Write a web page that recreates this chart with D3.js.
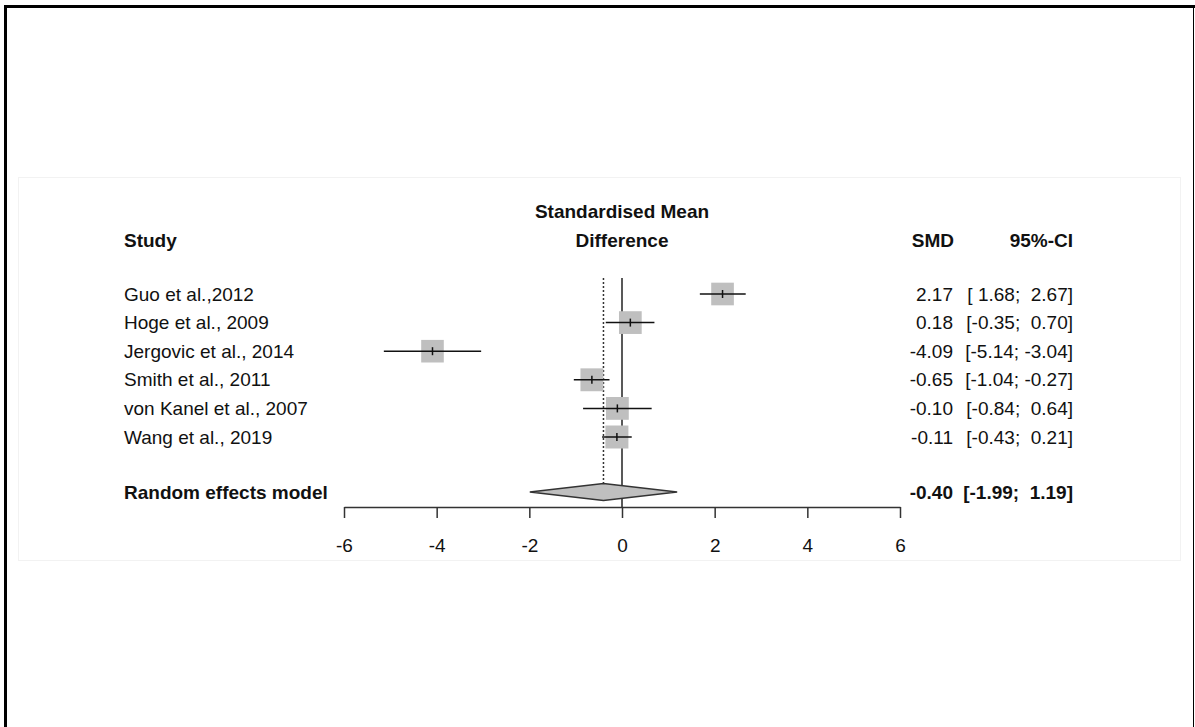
<!DOCTYPE html>
<meta charset="utf-8">
<style>
	body { margin: 0; background: #fff; }
	text {
		font-family: "Liberation Sans", Arial, sans-serif;
		font-size: 19px;
		fill: #111;
		white-space: pre;
	}
	.bold { font-weight: bold; }
	.axis path, .axis line { stroke: #333; stroke-width: 1.5; }
	.axis text { font-size: 19px; fill: #111; }
</style>

<div class="forest"></div>

<script src="https://d3js.org/d3.v7.min.js"></script>

<script>
	var studies = ["Guo et al.,2012", "Hoge et al., 2009", "Jergovic et al., 2014",
			"Smith et al., 2011", "von Kanel et al., 2007", "Wang et al., 2019"];
	var smd = [2.17, 0.18, -4.09, -0.65, -0.10, -0.11];
	var lower = [1.68, -0.35, -5.14, -1.04, -0.84, -0.43];
	var upper = [2.67, 0.70, -3.04, -0.27, 0.64, 0.21];
	var weights = [16.5, 16.6, 16.4, 16.8, 16.7, 17.0];
	var pooled = {label: "Random effects model", est: -0.40, lo: -1.99, hi: 1.19};
	var ticks = [-6, -4, -2, 0, 2, 4, 6];

	var W = 1195, H = 727;

	var svg = d3.select('.forest')
			.append("svg")
			.attr("width", W)
			.attr("height", H);

	// outer frame
	svg.append("line").attr("x1", 4).attr("x2", 1195).attr("y1", 6.5).attr("y2", 6.5)
			.attr("stroke", "#000").attr("stroke-width", 3);
	svg.append("line").attr("x1", 5.5).attr("x2", 5.5).attr("y1", 5).attr("y2", H)
			.attr("stroke", "#000").attr("stroke-width", 3);
	svg.append("line").attr("x1", 1193.5).attr("x2", 1193.5).attr("y1", 5).attr("y2", H)
			.attr("stroke", "#000").attr("stroke-width", 1);

	// faint plot panel
	svg.append("rect").attr("x", 18.5).attr("y", 177.5).attr("width", 1162).attr("height", 383)
			.attr("fill", "#fff").attr("stroke", "#f2f2f2");

	var x = d3.scaleLinear().domain([-6, 6]).range([344, 900]);
	var y = d3.scalePoint().domain(studies).range([294, 437]);
	var yPooled = 492, axisY = 507;
	var size = d3.scaleSqrt().domain([0, 17]).range([0, 23]);

	var data = studies.map(function(s, i) {
		return {study: s, est: smd[i], lo: lower[i], hi: upper[i], w: weights[i]};
	});

	var fmt = d3.format(".2f");
	function f(v) { return fmt(v).replace("−", "-"); }
	function pad(v) { return (v >= 0 ? " " : "") + f(v); }

	// headers
	svg.append("text").attr("class", "bold").attr("x", 124).attr("y", 240)
			.attr("dominant-baseline", "central").text("Study");
	svg.append("text").attr("class", "bold").attr("x", x(0)).attr("y", 211)
			.attr("text-anchor", "middle").attr("dominant-baseline", "central").text("Standardised Mean");
	svg.append("text").attr("class", "bold").attr("x", x(0)).attr("y", 240)
			.attr("text-anchor", "middle").attr("dominant-baseline", "central").text("Difference");
	svg.append("text").attr("class", "bold").attr("x", 954).attr("y", 240)
			.attr("text-anchor", "end").attr("dominant-baseline", "central").text("SMD");
	svg.append("text").attr("class", "bold").attr("x", 1073).attr("y", 240)
			.attr("text-anchor", "end").attr("dominant-baseline", "central").text("95%-CI");

	// reference lines
	svg.append("line").attr("x1", x(0)).attr("x2", x(0)).attr("y1", 278).attr("y2", axisY)
			.attr("stroke", "#222").attr("stroke-width", 1.5);
	svg.append("line").attr("x1", x(pooled.est)).attr("x2", x(pooled.est)).attr("y1", 278).attr("y2", yPooled - 8)
			.attr("stroke", "#333").attr("stroke-width", 1.5).attr("stroke-dasharray", "2,2");

	var rows = svg.selectAll("g.row").data(data).enter().append("g").attr("class", "row");

	rows.append("text").attr("x", 124).attr("y", function(d) { return y(d.study); })
			.attr("dominant-baseline", "central").text(function(d) { return d.study; });

	rows.append("rect")
			.attr("x", function(d) { return x(d.est) - size(d.w) / 2; })
			.attr("y", function(d) { return y(d.study) - size(d.w) / 2; })
			.attr("width", function(d) { return size(d.w); })
			.attr("height", function(d) { return size(d.w); })
			.attr("fill", "#bfbfbf");

	rows.append("line")
			.attr("x1", function(d) { return x(d.lo); })
			.attr("x2", function(d) { return x(d.hi); })
			.attr("y1", function(d) { return y(d.study); })
			.attr("y2", function(d) { return y(d.study); })
			.attr("stroke", "#111").attr("stroke-width", 1.5);

	rows.append("line")
			.attr("x1", function(d) { return x(d.est); })
			.attr("x2", function(d) { return x(d.est); })
			.attr("y1", function(d) { return y(d.study) - 4; })
			.attr("y2", function(d) { return y(d.study) + 4; })
			.attr("stroke", "#111").attr("stroke-width", 1.5);

	rows.append("text").attr("x", 953).attr("y", function(d) { return y(d.study); })
			.attr("text-anchor", "end").attr("dominant-baseline", "central")
			.text(function(d) { return f(d.est); });

	rows.append("text").attr("x", 1073).attr("y", function(d) { return y(d.study); })
			.attr("text-anchor", "end").attr("dominant-baseline", "central")
			.text(function(d) { return "[" + pad(d.lo) + "; " + pad(d.hi) + "]"; });

	// pooled estimate
	svg.append("text").attr("class", "bold").attr("x", 124).attr("y", yPooled)
			.attr("dominant-baseline", "central").text(pooled.label);
	svg.append("polygon")
			.attr("points", [
				[x(pooled.lo), yPooled], [x(pooled.est), yPooled - 8.5],
				[x(pooled.hi), yPooled], [x(pooled.est), yPooled + 8.5]
			].map(function(p) { return p.join(","); }).join(" "))
			.attr("fill", "#bfbfbf").attr("stroke", "#333").attr("stroke-width", 1.5);
	svg.append("text").attr("class", "bold").attr("x", 953).attr("y", yPooled)
			.attr("text-anchor", "end").attr("dominant-baseline", "central").text(f(pooled.est));
	svg.append("text").attr("class", "bold").attr("x", 1073).attr("y", yPooled)
			.attr("text-anchor", "end").attr("dominant-baseline", "central")
			.text("[" + pad(pooled.lo) + "; " + pad(pooled.hi) + "]");

	// x axis
	var axis = svg.append("g").attr("class", "axis")
			.attr("transform", "translate(0," + axisY + ")")
			.call(d3.axisBottom(x).tickValues(ticks).tickSize(11).tickSizeOuter(0)
					.tickFormat(function(d) { return String(d); }));
	axis.selectAll("text").attr("dy", null).attr("y", 38).attr("dominant-baseline", "central")
			.style("font-family", "'Liberation Sans', Arial, sans-serif");
</script>
